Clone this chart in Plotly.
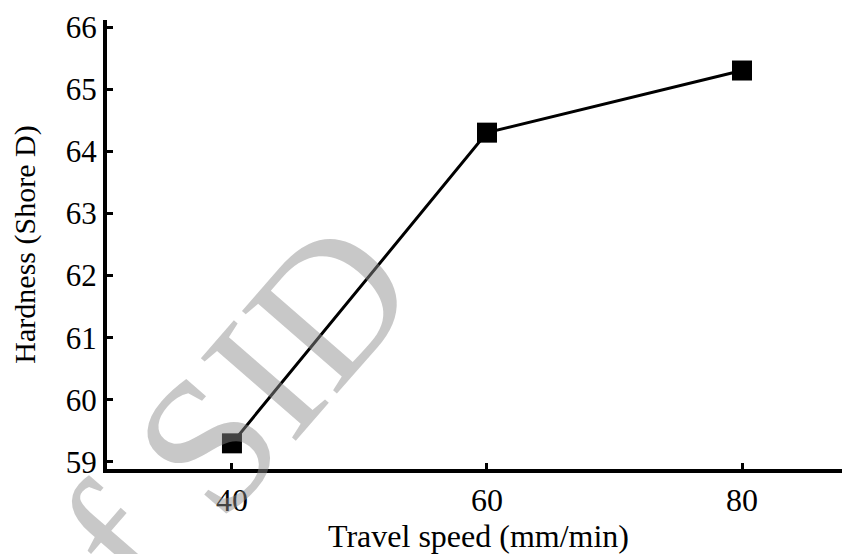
import plotly.graph_objects as go

travel_speed = [40, 60, 80]
hardness = [59.3, 64.3, 65.3]
x_ticks = [40, 60, 80]
y_ticks = [59, 60, 61, 62, 63, 64, 65, 66]

FONT = "Liberation Serif"

fig = go.Figure()
fig.add_trace(go.Scatter(
    x=travel_speed, y=hardness, mode="lines+markers",
    line=dict(color="black", width=3),
    marker=dict(symbol="square", size=20, color="black"),
    showlegend=False,
))

# page body has an 8px default margin; compensate in size/margins
fig.update_layout(
    width=842, height=546,
    margin=dict(l=99, r=0, t=12, b=85),
    paper_bgcolor="white", plot_bgcolor="white",
    font=dict(family=FONT, color="black", size=30),
    xaxis=dict(
        range=[30.2, 88.47], tickvals=x_ticks, ticktext=[str(v) for v in x_ticks],
        showgrid=False, zeroline=False, showline=True, linecolor="black", linewidth=4,
        ticks="inside", ticklen=6, tickwidth=3, tickcolor="black", automargin=False,
        tickfont=dict(size=32, family=FONT),
        title=dict(text="Travel speed (mm/min)", font=dict(size=32, family=FONT), standoff=4),
    ),
    yaxis=dict(
        range=[58.887, 66.113], tickvals=y_ticks, ticktext=[str(v) for v in y_ticks],
        showgrid=False, zeroline=False, showline=True, linecolor="black", linewidth=4,
        ticks="inside", ticklen=6, tickwidth=3, tickcolor="black", automargin=False,
        tickfont=dict(size=31, family=FONT),
        title=dict(text="Hardness (Shore D)", font=dict(size=30, family=FONT), standoff=24),
    ),
)

fig.add_annotation(
    text="of SID", xref="paper", yref="paper", x=0.132, y=0.051,
    xanchor="center", yanchor="middle",
    showarrow=False, textangle=-49,
    font=dict(family=FONT, size=192, color="rgba(141,141,141,0.48)"),
)

fig.write_html("out.html")
